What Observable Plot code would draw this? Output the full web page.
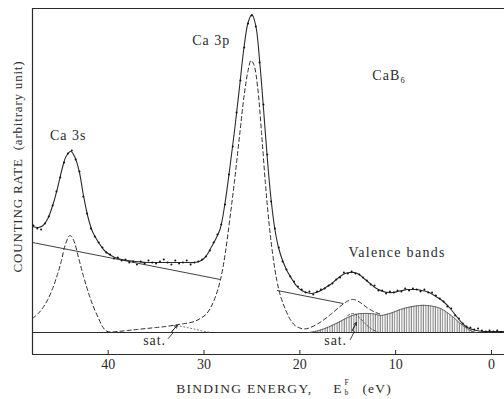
<!DOCTYPE html>
<html>
<head>
<meta charset="utf-8">
<script src="https://cdn.jsdelivr.net/npm/d3@7"></script>
<script src="https://cdn.jsdelivr.net/npm/@observablehq/plot@0.6"></script>
<style>
  html, body { margin: 0; padding: 0; background: #fff; }
  #chart svg { display: block; }
  #chart svg, #chart svg text, #chart svg g { font-family: "Liberation Serif", "Times New Roman", serif !important; }
</style>
</head>
<body>
<svg width="0" height="0" style="position:absolute">
  <defs>
    <pattern id="vhatch" width="2.4" height="10" patternUnits="userSpaceOnUse">
      <line x1="1" y1="0" x2="1" y2="10" stroke="#444" stroke-width="0.8"/>
    </pattern>
  </defs>
</svg>
<div id="chart"></div>
<script>
// Binding energy (eV) / counting rate (arbitrary units)
const fitE = [47.9,47.3,46.8,46.3,45.7,45.2,44.8,44.4,43.9,43.5,43.0,42.6,42.1,41.6,41.0,40.4,39.7,39.0,38.0,37.0,36.0,35.0,34.0,33.0,32.0,31.0,30.5,30.0,29.6,29.2,28.8,28.3,27.8,27.3,26.8,26.3,25.8,25.4,25.0,24.6,24.2,23.8,23.4,23.0,22.6,22.2,21.8,21.3,20.8,20.3,19.8,19.3,18.8,18.3,17.8,17.3,16.8,16.3,15.8,15.3,14.8,14.3,13.8,13.3,12.8,12.3,11.8,11.3,10.8,10.3,9.8,9.3,8.8,8.3,7.8,7.3,6.8,6.3,5.8,5.3,4.8,4.3,3.8,3.3,2.8,2.3,1.8,1.3,0.8,0.0,-1.3];
const fitV = [106,105,107,114,130,148,164,176,181,176,160,138,115,100,90,82,77,74,72,71,70,70,70,70,70,70,71,74,79,86,93,104,130,165,203,245,287,310,318,307,272,225,175,133,103,84,72,61,53,46,42,40,39,40,42,45,48,52,56,59,60,60,58,54,50,46,43,41,40,40,41,42,43,43,43,42,41,39,36,33,29,24,18,12,7,4,2.5,1.5,1,1,1];

const dotE = [47.8,47.4,47.0,46.6,46.2,45.8,45.4,45.0,44.6,44.2,43.8,43.4,43.0,42.6,42.2,41.8,41.4,41.0,40.6,40.2,39.8,39.4,39.0,38.6,38.2,37.8,37.4,37.0,36.6,36.2,35.8,35.4,35.0,34.6,34.2,33.8,33.4,33.0,32.6,32.2,31.8,31.4,31.0,30.6,30.2,29.8,29.4,29.0,28.6,28.2,27.8,27.4,27.0,26.6,26.2,25.8,25.4,25.0,24.6,24.2,23.8,23.4,23.0,22.6,22.2,21.8,21.4,21.0,20.6,20.2,19.8,19.4,19.0,18.6,18.2,17.8,17.4,17.0,16.6,16.2,15.8,15.4,15.0,14.6,14.2,13.8,13.4,13.0,12.6,12.2,11.8,11.4,11.0,10.6,10.2,9.8,9.4,9.0,8.6,8.2,7.8,7.4,7.0,6.6,6.2,5.8,5.4,5.0,4.6,4.2,3.8,3.4,3.0,2.6,2.2,1.8,1.4,1.0,0.6,0.2,-0.2,-0.6,-1.0];
const dotV = [107,104,103,109,116,127,141,155,170,179,182,173,161,136,119,104,96,90,85,80,78,74,75,72,73,70,71,68,71,69,72,70,69,71,73,70,68,72,69,70,72,68,70,71,73,76,82,90,98,108,128,158,186,220,252,285,309,317,306,270,228,178,131,104,85,71,63,56,51,46,43,40,41,38,41,43,44,47,49,53,55,60,59,61,59,58,55,52,48,47,42,42,39,41,40,42,41,44,42,44,43,41,43,40,40,37,34,31,26,24,17,14,9,6,5,3,4,2,1,2,1,2,0.5];

// component (dashed) curve: Ca 3s + Ca 3p + satellite + valence
const compE = [47.9,47.3,46.8,46.3,45.8,45.3,44.9,44.5,44.0,43.6,43.1,42.6,42.1,41.6,41.0,40.6,40.2,39.8,39.0,38.0,37.0,36.0,35.0,34.0,33.0,32.0,31.0,30.4,29.8,29.3,28.8,28.3,27.8,27.3,26.8,26.3,25.8,25.4,25.1,24.8,24.4,24.0,23.6,23.2,22.8,22.4,22.0,21.5,21.0,20.5,20.0,19.5,18.9,17.9,16.8,15.8,15.0,14.4,13.7,13.0,12.3,11.8,11.4];
const compV = [14,19,25,33,44,58,71,87,97,92,75,57,41,27,14,6,1.5,0.5,1,2,3,4,5,6,7.5,9,11,14,18,25,36,52,78,114,153,196,238,262,272,268,245,200,150,108,76,52,36,23,13,7,4.5,3.5,5,10,18,26,31.5,33,30,25,21,19,18];

// straight background line (two visible segments)
const bgE = [47.9, 28.3, 22.35, 15.5];
const bgV = [90, 53, 42, 29];
const bgSeg = ["a", "a", "b", "b"];

// hatched valence-band component
const valE = [19.0,18.0,17.0,16.0,15.0,14.2,13.5,12.8,12.2,11.6,11.0,10.3,9.5,8.5,7.5,6.7,6.0,5.3,4.7,4.2,3.6,3.0,2.4,1.8,1.5];
const valV = [0,2,5.5,10,15,18,19,19,18.5,17,18,20,23,25.5,27,27,26,24,20.5,17,12,7,3,0.5,0];

// satellites (dotted)
const sat1E = [33.2,32.5,31.8,31.0,30.4,29.8,29.4];
const sat1V = [7,6.3,5,3.4,2,0.8,0.2];
const sat2E = [15.0,14.4,13.8,13.2,12.6,11.9];
const sat2V = [17,19,15,9,4,0.5];

// annotation arrows (zig-zag pointers)
const arrow1E = [33.73,33.21,33.37,32.8];
const arrow1V = [-6,0,1,7];
const arrow2E = [14.73,14.31,14.52,14.1];
const arrow2V = [-7,1,2,10];

const xTicks = [40, 30, 20, 10, 0];
const xDomain = [47.9, -1.36];
const yDomain = [-22, 324];

// peak labels (centred)
const peakText = ["Ca 3s", "Ca 3p"];
const peakE = [44.18, 29.24];
const peakV = [196.5, 291.5];
// other labels (left-aligned)
const noteText = ["CaB\u2086", "Valence bands", "sat.", "sat."];
const noteE = [12.43, 14.93, 36.34, 17.44];
const noteV = [256.5, 79.5, -8.5, -8.5];

// x-axis title pieces
const xTitleMain = "BINDING ENERGY,";
const xTitleMainE = 18.69;
const xTitleRest = ["E", "(eV)"];
const xTitleRestE = [16.50, 13.47];
const xTitleScript = ["F", "b"];
const xTitleScriptE = [15.35, 15.35];
const xTitleScriptV = [-49.8, -59.6];
const xTitleV = -55.7;

const toRows = (xs, ys, extra) => xs.map((x, i) => ({x, y: ys[i], ...(extra ? extra(i) : {})}));
const fit = toRows(fitE, fitV);
const dots = toRows(dotE, dotV);
const comp = toRows(compE, compV);
const bg = toRows(bgE, bgV, i => ({z: bgSeg[i]}));
const val = toRows(valE, valV);
const sat1 = toRows(sat1E, sat1V);
const sat2 = toRows(sat2E, sat2V);
const arr1 = toRows(arrow1E, arrow1V);
const arr2 = toRows(arrow2E, arrow2V);
const peaks = peakText.map((t, i) => ({t, x: peakE[i], y: peakV[i]}));
const notes = noteText.map((t, i) => ({t, x: noteE[i], y: noteV[i]}));
const xRest = xTitleRest.map((t, i) => ({t, x: xTitleRestE[i], y: xTitleV}));
const xScript = xTitleScript.map((t, i) => ({t, x: xTitleScriptE[i], y: xTitleScriptV[i]}));

const ink = "#2b2b2b";
const serif = "Liberation Serif, serif";

const plot = Plot.plot({
  width: 504,
  height: 399,
  marginLeft: 32,
  marginRight: 0,
  marginTop: 8,
  marginBottom: 45,
  x: {domain: xDomain, axis: null},
  y: {domain: yDomain, axis: null},
  style: {fontFamily: serif, background: "#fff", color: ink},
  marks: [
    // frame
    Plot.ruleY([yDomain[1]], {stroke: ink, strokeWidth: 1.2}),
    Plot.ruleY([yDomain[0]], {stroke: ink, strokeWidth: 1.2}),
    Plot.ruleX([xDomain[0]], {stroke: ink, strokeWidth: 1.2}),
    Plot.ruleY([0], {stroke: ink, strokeWidth: 1.1}),
    Plot.ruleX(xTicks, {y1: yDomain[0], y2: yDomain[0] + 4, stroke: ink}),
    Plot.axisX(xTicks, {tickSize: 0, tickPadding: 5, fontSize: 14, fill: ink, label: null}),
    // hatched valence band
    Plot.areaY(val, {x: "x", y: "y", fill: "url(#vhatch)", curve: "catmull-rom"}),
    Plot.line(val, {x: "x", y: "y", stroke: "#555", strokeWidth: 0.9, curve: "catmull-rom"}),
    // background line
    Plot.line(bg, {x: "x", y: "y", z: "z", stroke: ink, strokeWidth: 0.9}),
    // satellites
    Plot.line(sat1, {x: "x", y: "y", stroke: "#555", strokeWidth: 0.9, strokeDasharray: "1,2.5", curve: "catmull-rom"}),
    Plot.line(sat2, {x: "x", y: "y", stroke: "#444", strokeWidth: 0.9, strokeDasharray: "2,2", curve: "catmull-rom"}),
    // component curve (dashed)
    Plot.line(comp, {x: "x", y: "y", stroke: ink, strokeWidth: 1, strokeDasharray: "4,3", curve: "catmull-rom"}),
    // total fit
    Plot.line(fit, {x: "x", y: "y", stroke: ink, strokeWidth: 1.1, curve: "catmull-rom"}),
    // measured points
    Plot.dot(dots, {x: "x", y: "y", r: 1, fill: "#111", stroke: null}),
    // pointers
    Plot.line(arr1, {x: "x", y: "y", stroke: ink, strokeWidth: 0.9}),
    Plot.line(arr2, {x: "x", y: "y", stroke: ink, strokeWidth: 0.9}),
    Plot.arrow([arr1.slice(-2)], {x1: d => d[0].x, y1: d => d[0].y, x2: d => d[1].x, y2: d => d[1].y, stroke: ink, strokeWidth: 0.9, headLength: 5}),
    Plot.arrow([arr2.slice(-2)], {x1: d => d[0].x, y1: d => d[0].y, x2: d => d[1].x, y2: d => d[1].y, stroke: ink, strokeWidth: 0.9, headLength: 5}),
    // annotations
    Plot.text(peaks, {x: "x", y: "y", text: "t", textAnchor: "middle", fontSize: 14, fill: ink}),
    Plot.text(notes, {x: "x", y: "y", text: "t", textAnchor: "start", fontSize: 14, fill: ink}),
    // axis titles
    Plot.text([xTitleMain], {x: xTitleMainE, y: xTitleV, text: d => d, textAnchor: "end", fontSize: 13.5, fill: ink}),
    Plot.text(xRest, {x: "x", y: "y", text: "t", textAnchor: "start", fontSize: 13.5, fill: ink}),
    Plot.text(xScript, {x: "x", y: "y", text: "t", textAnchor: "start", fontSize: 7.5, fill: ink}),
    Plot.text(["COUNTING RATE  (arbitrary unit)"], {x: 49.42, y: 166, text: d => d, rotate: -90, fontSize: 13, fill: ink})
  ]
});

const svg = d3.select(plot);
svg.selectAll("text").each(function() {
  const t = this.textContent;
  const s = d3.select(this);
  s.style("font-family", "'Liberation Serif', serif");
  if (t === "Valence bands") s.attr("letter-spacing", "1.3");
  else if (t === "Ca 3s" || t === "Ca 3p" || t === "CaB\u2086") s.attr("letter-spacing", "1");
  else if (t === "sat.") s.attr("letter-spacing", "0.9");
  else if (t.startsWith("COUNTING")) s.attr("letter-spacing", "0.8");
  else if (t.startsWith("BINDING")) s.attr("letter-spacing", "1.3");
  else if (t === "(eV)") s.attr("letter-spacing", "1.2");
});
document.getElementById("chart").append(plot);
</script>
</body>
</html>
